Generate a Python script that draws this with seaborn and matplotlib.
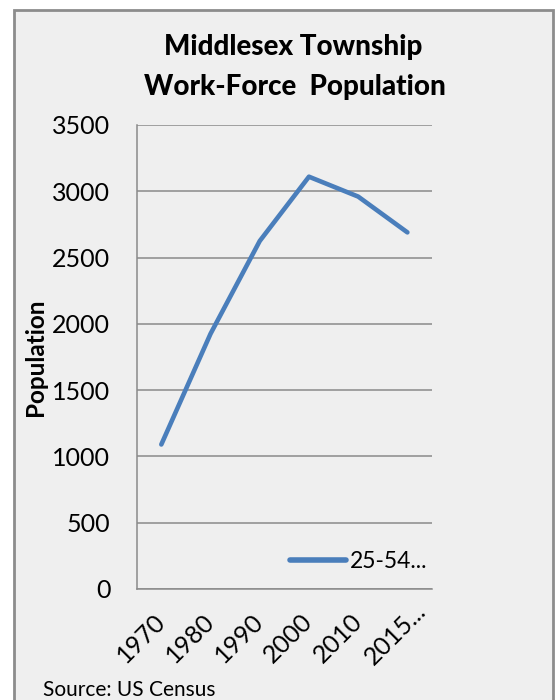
import matplotlib
matplotlib.use("Agg")
import matplotlib.pyplot as plt
import matplotlib.transforms as mtrans
import seaborn as sns
import pandas as pd
from matplotlib.patches import Rectangle

years = ["1970", "1980", "1990", "2000", "2010", "2015..."]
population = [1090, 1925, 2625, 3110, 2960, 2690]
series_name = "25-54..."
y_ticks = [0, 500, 1000, 1500, 2000, 2500, 3000, 3500]

sns.set_theme(style="white")
plt.rcParams["font.family"] = ["Lato", "DejaVu Sans"]
plt.rcParams["text.color"] = "black"
plt.rcParams["xtick.color"] = "black"
plt.rcParams["ytick.color"] = "black"
plt.rcParams["axes.labelcolor"] = "black"

W, H = 556, 700
fig = plt.figure(figsize=(W / 100, H / 100), dpi=100, facecolor="white")

bg = "#efefef"
# outer chart box
fig.patches.append(Rectangle((14 / W, 1 - 720 / H), (553 - 14) / W, (720 - 9.5) / H,
                             transform=fig.transFigure, facecolor=bg,
                             edgecolor="#8c8c8c", linewidth=2, zorder=-5))

left, right, top, bottom = 136.7, 432, 125, 589
ax = fig.add_axes([left / W, 1 - bottom / H, (right - left) / W, (bottom - top) / H])
ax.set_zorder(2)
ax.set_facecolor(bg)

df = pd.DataFrame({"Year": years, "Population": population, "Series": series_name})
sns.lineplot(data=df, x="Year", y="Population", ax=ax, color="#4a7ebb",
             linewidth=3.3, label=series_name, sort=False)
for l in ax.lines:
    l.set_solid_capstyle("round")
    l.set_solid_joinstyle("round")

ax.set_xlim(-0.5, 5.5)
ax.set_ylim(0, 3500)
ax.set_yticks(y_ticks)
ax.set_yticklabels([str(v) for v in y_ticks], fontsize=18)
ax.yaxis.grid(True, color="#8a8a8a", linewidth=1.1)
ax.xaxis.grid(False)
ax.set_axisbelow(True)
ax.tick_params(axis="y", length=0, pad=19)
ax.tick_params(axis="x", length=0, pad=21)
xlabels = ax.get_xticklabels()
plt.setp(xlabels, rotation=45, ha="right", va="center",
         rotation_mode="anchor", fontsize=18)
# last (truncated) label overflows to the right like the original
last = xlabels[-1]
last.set_transform(last.get_transform() +
                   mtrans.ScaledTranslation(15 / 100, 11 / 100, fig.dpi_scale_trans))

for s in ["top", "right"]:
    ax.spines[s].set_visible(False)
for s in ["left", "bottom"]:
    ax.spines[s].set_color("#8a8a8a")
    ax.spines[s].set_linewidth(1.1)

ax.set_xlabel("")
ax.set_ylabel("Population", fontsize=17.5, fontweight="bold")
ax.yaxis.set_label_coords(-90 / (right - left), 0.5)

leg = ax.legend(loc="lower right", bbox_to_anchor=(1.054, -0.007), frameon=False,
                fontsize=16.5, handlelength=2.45, handletextpad=0.17)
for h in leg.get_lines():
    h.set_linewidth(4)

fig.text(293 / W, 1 - 47 / H, "Middlesex Township", ha="center", va="center",
         fontsize=20, fontweight="black")
fig.text(295 / W, 1 - 87 / H, "Work-Force  Population", ha="center", va="center",
         fontsize=20, fontweight="black")
fig.text(43 / W, 1 - 690 / H, "Source: US Census", ha="left", va="center",
         fontsize=15)

fig.savefig("out.png", dpi=100, facecolor="white")
